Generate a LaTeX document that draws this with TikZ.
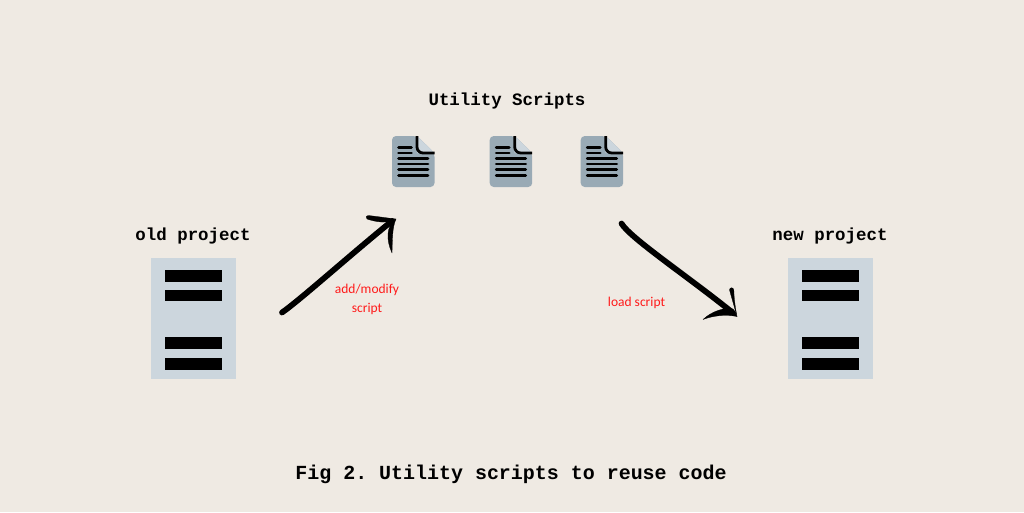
\documentclass[tikz,border=0pt]{standalone}
\usepackage{fontspec}
\setmonofont{Liberation Mono}[BoldFont={Liberation Mono Bold}]
\setsansfont{Carlito}
\usetikzlibrary{arrows.meta}

\definecolor{paper}{HTML}{EFEAE3}
\definecolor{boxblue}{HTML}{CCD6DD}
\definecolor{docblue}{HTML}{99AAB5}
\definecolor{notered}{HTML}{FF1A1A}

\tikzset{
    title/.style = {font = {\ttfamily\bfseries\fontsize{12.4}{15}\selectfont}, black, inner sep=0pt},
    caption/.style = {font = {\ttfamily\bfseries\fontsize{14.2}{17}\selectfont}, black, inner sep=0pt},
    note/.style = {font = {\sffamily\fontsize{9.6}{13.5}\selectfont}, notered, align=center, inner sep=0pt},
    project/.style = {fill=boxblue, minimum width=21.25mm, minimum height=30.25mm, inner sep=0pt},
    bar/.style = {fill=black, minimum width=14.4mm, minimum height=2.85mm, inner sep=0pt},
    stroke/.style = {draw=black, line width=4.1pt, line cap=round},
    barb/.style = {fill=black, draw=black, line width=0.2pt, line join=round},
    docicon/.pic = {
        \fill[docblue, rounded corners=1mm] (0, 0) -- (25, 0) -- (42.5, 17) -- (42.5, 51) -- (0, 51) -- cycle;
        \fill[boxblue] (25, 0) -- (42.5, 17) -- (25, 17) -- cycle;
        \draw[black, line width=2pt, rounded corners=1.5mm] (25, 0) -- (25, 17) -- (42.5, 17);
        \draw[black, line width=2pt, line cap=round] (6.5, 11.3) -- (19.5, 11.3);
        \draw[black, line width=2pt, line cap=round] (6.5, 16.9) -- (19.5, 16.9);
        \draw[black, line width=2pt, line cap=round] (6.5, 22.4) -- (36, 22.4);
        \draw[black, line width=2pt, line cap=round] (6.5, 28) -- (36, 28);
        \draw[black, line width=2pt, line cap=round] (6.5, 33.8) -- (36, 33.8);
        \draw[black, line width=2pt, line cap=round] (6.5, 39.5) -- (36, 39.5);
    }
}

\begin{document}
\begin{tikzpicture}[x=0.25mm, y=-0.25mm]
        \fill[paper] (0, 0) rectangle (1024, 512);
        \useasboundingbox (0, 0) rectangle (1024, 512);

        \node[title] (utility) at (507, 101) {Utility Scripts};
        \pic (doca) at (392, 136) {docicon};
        \pic (docb) at (489.7, 136) {docicon};
        \pic (docc) at (580.7, 136) {docicon};

        \node[title] (oldtitle) at (193, 236) {old project};
        \node[project] (oldbox) at (193.7, 318.3) {};
        \node[bar] (olda) at (193.5, 276) {};
        \node[bar] (oldb) at (193.5, 295.7) {};
        \node[bar] (oldc) at (193.5, 343) {};
        \node[bar] (oldd) at (193.5, 364) {};

        \node[title] (newtitle) at (830, 236) {new project};
        \node[project] (newbox) at (830.5, 318.3) {};
        \node[bar] (newa) at (830.3, 276) {};
        \node[bar] (newb) at (830.3, 295.7) {};
        \node[bar] (newc) at (830.3, 343) {};
        \node[bar] (newd) at (830.3, 364) {};

        \coordinate (addtail) at (282, 312.5);
        \coordinate (addtip) at (392, 221);
        \draw[stroke] (addtail) .. controls (300, 300) and (350, 255) .. (addtip);
        \fill[barb] (396, 219) .. controls (387, 224) and (376, 222) .. (367, 219)
            .. controls (365.5, 217.5) and (366, 215.5) .. (368, 215.5)
            .. controls (378, 216.5) and (387, 218) .. (396, 219) -- cycle;
        \fill[barb] (396, 219) .. controls (386, 226) and (386, 240) .. (392, 253)
            .. controls (392.5, 240) and (392, 228) .. (396, 219) -- cycle;

        \coordinate (loadtail) at (621.5, 223.5);
        \coordinate (loadtip) at (733, 313);
        \draw[stroke] (loadtail) .. controls (630, 238) and (690, 278) .. (loadtip);
        \fill[barb] (737, 316.5) -- (729.5, 290) .. controls (729.5, 287) and (733.5, 287) .. (733.8, 290)
            .. controls (734, 298) and (735, 306) .. (737, 316.5) -- cycle;
        \fill[barb] (737, 316.5) .. controls (725, 314) and (712, 316) .. (703, 319.5)
            .. controls (712, 311) and (725, 307) .. (733, 309) -- cycle;

        \node[note] (addnote) at (367, 299) {add/modify\\script};
        \node[note] (loadnote) at (636.5, 302.5) {load script};

        \node[caption] (figcaption) at (511, 474) {Fig 2. Utility scripts to reuse code};
\end{tikzpicture}
\end{document}
